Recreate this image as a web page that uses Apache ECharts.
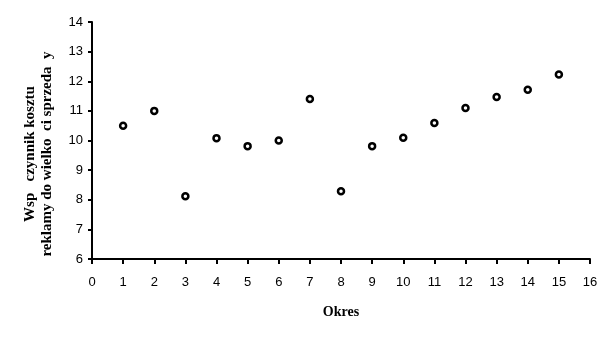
<!DOCTYPE html>
<html><head><meta charset="utf-8">
<script src="https://cdn.jsdelivr.net/npm/echarts@6/dist/echarts.min.js"></script>
<style>html,body{margin:0;padding:0;background:#fff}#c{width:612px;height:340px}</style>
</head><body><div id="c"></div>
<script>
const periods = [1,2,3,4,5,6,7,8,9,10,11,12,13,14,15];
const ratios = [10.5,11.0,8.12,10.08,9.81,10.0,11.4,8.29,9.81,10.09,10.59,11.1,11.47,11.71,12.23];
const xTitle = 'Okres';
const yTitleLines = ['Wsp   czynnik kosztu', 'reklamy do wielko  ci sprzeda  y'];

const chart = echarts.init(document.getElementById('c'));
const axisCommon = {
  axisLine:{show:true,onZero:false,lineStyle:{color:'#000',width:2}},
  axisTick:{show:true,inside:false,length:5,lineStyle:{color:'#000',width:2}},
  splitLine:{show:false},
  axisLabel:{color:'#000',fontFamily:'Liberation Sans',fontSize:13}
};
chart.setOption({
  animation:false,
  backgroundColor:'#fff',
  grid:{left:92,right:22,top:22,bottom:81},
  xAxis:Object.assign({type:'value',min:0,max:16,interval:1,
    name:xTitle,nameLocation:'middle',nameGap:46,
    nameTextStyle:{color:'#000',fontFamily:'Liberation Serif',fontWeight:'bold',fontSize:14}
  },axisCommon,{axisLabel:Object.assign({},axisCommon.axisLabel,{margin:17})}),
  yAxis:Object.assign({type:'value',min:6,max:14,interval:1},axisCommon,{axisLabel:Object.assign({},axisCommon.axisLabel,{margin:9}),axisTick:Object.assign({},axisCommon.axisTick,{length:4})}),
  graphic:[{
    type:'text',
    x:39, y:154,
    rotation:Math.PI/2,
    style:{text:yTitleLines.join('\n'),fill:'#000',font:'bold 15px "Liberation Serif"',
      align:'center',verticalAlign:'middle',lineHeight:17}
  }],
  series:[{
    type:'scatter',
    data:periods.map((p,i)=>[p,ratios[i]]),
    symbol:'circle',symbolSize:6,
    itemStyle:{color:'#fff',borderColor:'#000',borderWidth:2.5,opacity:1}
  }]
});
</script></body></html>
